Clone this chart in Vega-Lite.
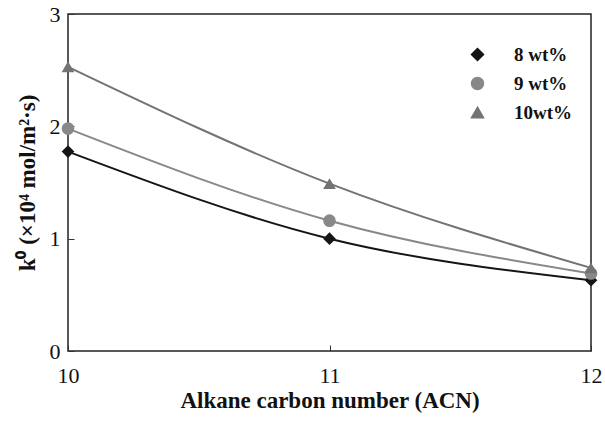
{
  "$schema": "https://vega.github.io/schema/vega-lite/v6.json",
  "width": 523,
  "height": 337,
  "autosize": {"type": "none"},
  "padding": {"left": 68, "top": 14, "right": 14, "bottom": 75},
  "background": "white",
  "config": {
    "view": {"stroke": "#222", "strokeWidth": 1.5},
    "font": "Liberation Serif",
    "axis": {"grid": false, "domain": false, "tickColor": "#333", "labelColor": "#111", "titleColor": "#111"}
  },
  "data": {
    "values": [
      {"acn": 10, "k": 1.775, "series": "8 wt%"},
      {"acn": 11, "k": 1.0, "series": "8 wt%"},
      {"acn": 12, "k": 0.63, "series": "8 wt%"},
      {"acn": 10, "k": 1.98, "series": "9 wt%"},
      {"acn": 11, "k": 1.16, "series": "9 wt%"},
      {"acn": 12, "k": 0.69, "series": "9 wt%"},
      {"acn": 10, "k": 2.53, "series": "10wt%"},
      {"acn": 11, "k": 1.49, "series": "10wt%"},
      {"acn": 12, "k": 0.74, "series": "10wt%"}
    ]
  },
  "encoding": {
    "x": {
      "field": "acn", "type": "quantitative",
      "scale": {"domain": [10, 12], "zero": false},
      "axis": {"tickCount": 2, "tickSize": -6, "labelFlush": false, "labelPadding": 20, "labelFontSize": 22, "title": "Alkane carbon number (ACN)", "titleFontSize": 23, "titleFontWeight": "bold", "titlePadding": 3}
    },
    "y": {
      "field": "k", "type": "quantitative",
      "scale": {"domain": [0, 3]},
      "axis": {"tickCount": 3, "tickSize": -6, "labelPadding": 14, "labelFontSize": 22, "title": "k⁰ (×10⁴ mol/m²·s)", "titleFontSize": 23, "titleFontWeight": "bold", "titlePadding": 10}
    },
    "color": {"field": "series", "type": "nominal", "scale": {"domain": ["8 wt%", "9 wt%", "10wt%"], "range": ["#151515", "#888888", "#737373"]},
      "legend": {
        "orient": "none", "legendX": 400, "legendY": 31, "padding": 0, "title": null,
        "labelFontSize": 19, "labelFontWeight": "bold", "labelColor": "#111",
        "symbolSize": 144, "rowPadding": 9, "labelOffset": 27
      }
    },
    "shape": {"field": "series", "type": "nominal", "scale": {"domain": ["8 wt%", "9 wt%", "10wt%"], "range": ["diamond", "circle", "triangle-up"]}}
  },
  "layer": [
    {"mark": {"type": "line", "interpolate": "monotone", "strokeWidth": 2}},
    {"mark": {"type": "point", "filled": true, "opacity": 1, "size": 160}}
  ]
}
